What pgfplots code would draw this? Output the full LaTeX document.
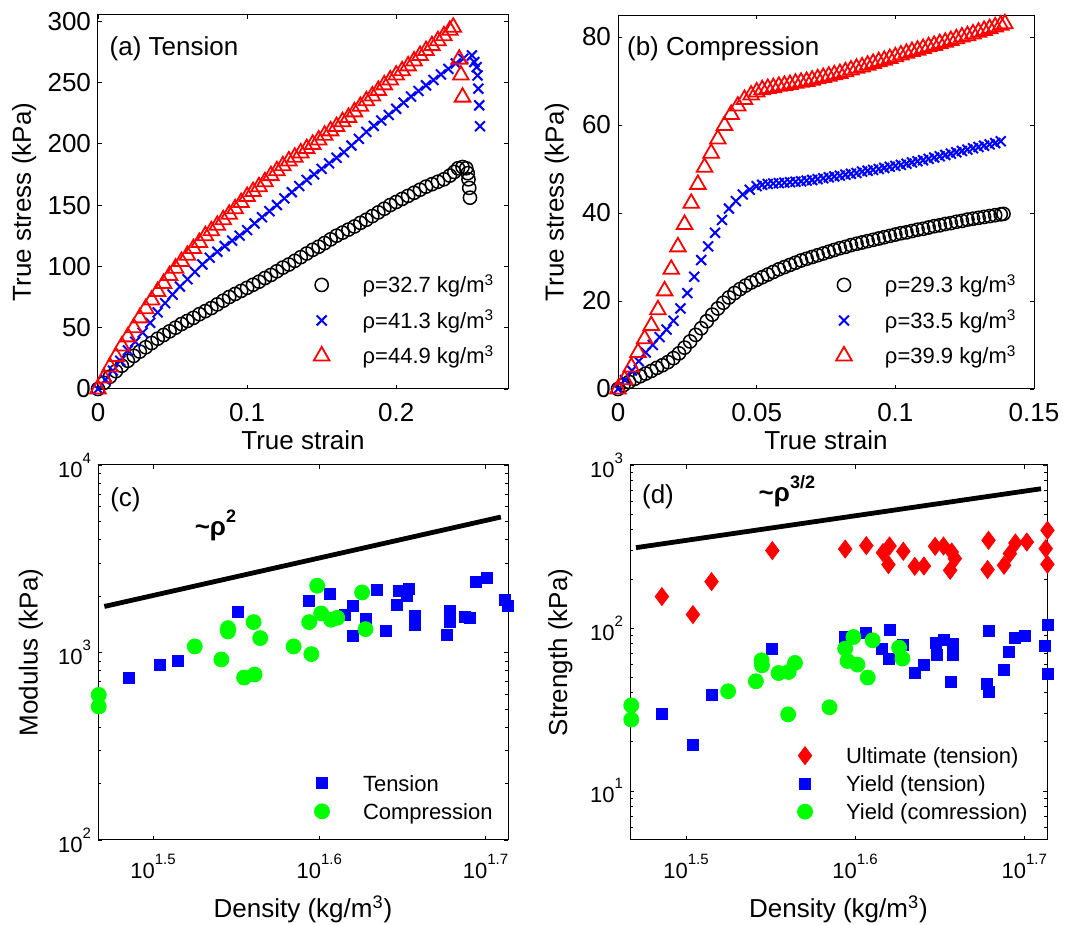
\documentclass[border=0pt]{standalone}
\usepackage{fontspec}
\setmainfont{Liberation Sans}
\usepackage{pgfplots}
\pgfplotsset{compat=1.18}
\newcommand\tfont{\fontsize{13}{13}\selectfont}
\newcommand\sfont{\fontsize{11}{11}\selectfont}
\newcommand\lsup[1]{\raisebox{7pt}{\fontsize{7.5}{7.5}\selectfont #1}}
\definecolor{mred}{rgb}{1,0,0}
\definecolor{mblue}{rgb}{0,0,1}
\definecolor{mgreen}{rgb}{0,1,0}
\pgfplotsset{
  base/.style={scale only axis, clip=false, tick align=inside,
    major tick length=2.2pt, minor tick length=1.3pt,
    axis line style={line width=0.5pt},
    every tick/.append style={line width=0.4pt, black},
    /pgf/number format/assume math mode=true,
    xticklabel shift=3.6pt,
    label style={font=\tfont},
    legend cell align=left,
    legend style={draw=none, fill=none, inner sep=0pt, outer sep=0pt, row sep=0pt, column sep=0pt, font=\sfont},
  },
  legAB/.style={legend image code/.code={\path[draw=none,fill=none] (-6pt,-5pt) rectangle (20.5pt,5pt); \draw[##1] plot coordinates {(0pt,0.9pt)};}},
  legCD/.style={legend image code/.code={\path[draw=none,fill=none] (-6pt,-4pt) rectangle (20.5pt,4pt); \draw[##1] plot coordinates {(0pt,1.4pt)};}},
}
\begin{document}
\begin{tikzpicture}
\useasboundingbox (0,0) rectangle (536pt,462.5pt);
% ---------------- (a) Tension
\begin{axis}[base, at={(49pt,268pt)}, anchor=south west, width=205pt, height=187pt,
  xmin=0, xmax=0.275, ymin=0, ymax=305,
  xtick={0,0.1,0.2}, xticklabels={0,0.1,0.2},
  ytick={0,50,100,150,200,250,300},
  tick label style={font=\tfont},
  xlabel={True strain}, ylabel={True stress (kPa)},
  xlabel style={at={(axis description cs:0.5,-0.138)}, anchor=center},
  ylabel style={at={(axis description cs:-0.18,0.5)}, anchor=center},
  legend style={at={(0.5163,0.3209)}, anchor=north west, nodes={inner sep=0pt, text height=12pt, text depth=5.75pt}},
]
\addplot[only marks, mark=o, mark size=3.3pt, line width=0.75pt, black, legAB] coordinates {
(0,0)(0.004,5)(0.008,10)(0.012,14.5)(0.016,19)(0.02,23)(0.024,27)(0.028,30.5)(0.032,34)(0.036,37.5)(0.04,41)(0.044,44)(0.048,47)(0.052,50)(0.056,53)(0.06,55.5)(0.064,58)(0.068,61)(0.072,63.5)(0.076,66)(0.08,69)(0.084,72)(0.088,75)(0.092,77.5)(0.096,80)(0.1,82.5)(0.104,85)(0.108,87.5)(0.112,90.5)(0.116,93)(0.12,96)(0.124,99)(0.128,101.5)(0.132,104.5)(0.136,107.5)(0.14,110.5)(0.144,113.5)(0.148,116)(0.152,119)(0.156,122)(0.16,125)(0.164,127.5)(0.168,130)(0.172,132.5)(0.176,135.5)(0.18,138)(0.184,141)(0.188,144)(0.192,147)(0.196,150)(0.2,152.5)(0.204,155)(0.208,157.5)(0.212,160)(0.216,162.5)(0.22,165)(0.224,167)(0.228,169)(0.232,171)(0.236,174)(0.239,177)(0.2415,180)(0.2445,181)(0.247,180)(0.248,176)(0.2485,171)(0.249,164)(0.2495,156)};
\addlegendentry{ρ=32.7 kg/m\textsuperscript{3}}
\addplot[only marks, mark=x, mark size=3.5pt, line width=1pt, mblue, legAB] coordinates {
(0,0)(0.005,7.5)(0.01,15)(0.015,23)(0.02,31.5)(0.025,38.5)(0.03,46)(0.035,54)(0.04,62.5)(0.045,70)(0.05,77)(0.055,83.5)(0.06,89.5)(0.065,95.5)(0.07,101.5)(0.075,107)(0.08,112)(0.085,116.5)(0.09,121)(0.095,125)(0.1,129.6)(0.105,135)(0.11,140)(0.115,145)(0.12,150)(0.125,155.5)(0.13,160.5)(0.135,165.5)(0.14,170.5)(0.145,175)(0.15,179.5)(0.155,184)(0.16,188.5)(0.165,193)(0.17,198.5)(0.175,204)(0.18,209.7)(0.185,214.5)(0.19,219)(0.195,223.5)(0.2,228.5)(0.205,233.5)(0.21,238.5)(0.215,243)(0.22,247.6)(0.225,252)(0.23,256.5)(0.235,261)(0.24,265.5)(0.245,269.3)(0.2508,272)(0.2524,266.6)(0.254,262.5)(0.2546,255.7)(0.2551,244.9)(0.2557,231.3)(0.2562,214.3)};
\addlegendentry{ρ=41.3 kg/m\textsuperscript{3}}
\addplot[only marks, mark=triangle, mark size=4.5pt, line width=0.9pt, mred, legAB] coordinates {
(0,0)(0.004,9)(0.008,18)(0.012,26.5)(0.016,35)(0.02,42.5)(0.024,50)(0.028,58)(0.032,65.5)(0.036,72.5)(0.04,79.5)(0.044,86)(0.048,92.5)(0.052,98.5)(0.056,104)(0.06,109)(0.064,114.5)(0.068,119.5)(0.072,125)(0.076,129)(0.08,133.5)(0.084,138)(0.088,142.5)(0.092,147)(0.096,152)(0.1,157)(0.104,161)(0.108,165)(0.112,169)(0.116,174)(0.12,178)(0.124,182)(0.128,186)(0.132,189)(0.136,192.5)(0.14,196)(0.144,199.5)(0.148,203)(0.152,207)(0.156,210.5)(0.16,214)(0.164,218)(0.168,221.5)(0.172,226)(0.176,230.5)(0.18,235)(0.184,239)(0.188,243.5)(0.192,248)(0.196,252)(0.2,256)(0.204,259.5)(0.208,263.5)(0.212,267.5)(0.216,272)(0.22,276)(0.224,280)(0.228,284)(0.232,288)(0.236,292.5)(0.2383,295)(0.2423,269)(0.2434,256)(0.2445,238)};
\addlegendentry{ρ=44.9 kg/m\textsuperscript{3}}
\node[anchor=base west, inner sep=0pt, font=\tfont] at (rel axis cs:0.0276,0.893) {(a) Tension};
\end{axis}
% ---------------- (b) Compression
\begin{axis}[base, at={(309pt,268pt)}, anchor=south west, width=208pt, height=187pt,
  xmin=0, xmax=0.15, ymin=0, ymax=85,
  xtick={0,0.05,0.1,0.15}, xticklabels={0,0.05,0.1,0.15},
  ytick={0,20,40,60,80},
  tick label style={font=\tfont},
  xlabel={True strain}, ylabel={True stress (kPa)},
  xlabel style={at={(axis description cs:0.5,-0.138)}, anchor=center},
  ylabel style={at={(axis description cs:-0.147,0.5)}, anchor=center},
  legend style={at={(0.5144,0.3209)}, anchor=north west, nodes={inner sep=0pt, text height=12pt, text depth=5.75pt}},
]
\addplot[only marks, mark=o, mark size=3.3pt, line width=0.75pt, black, legAB] coordinates {
(0,0)(0.002,0.9)(0.004,1.6)(0.006,2.3)(0.008,2.9)(0.01,3.5)(0.012,4.1)(0.014,4.8)(0.016,5.4)(0.018,6.1)(0.02,7)(0.022,8.1)(0.024,9.4)(0.026,10.8)(0.028,12.3)(0.03,13.8)(0.032,15.4)(0.034,16.9)(0.036,18.3)(0.038,19.6)(0.04,20.8)(0.042,21.8)(0.044,22.7)(0.046,23.5)(0.048,24.2)(0.05,24.8)(0.052,25.4)(0.054,26)(0.056,26.6)(0.058,27.2)(0.06,27.7)(0.062,28.2)(0.064,28.7)(0.066,29.2)(0.068,29.6)(0.07,30)(0.072,30.4)(0.074,30.8)(0.076,31.2)(0.078,31.6)(0.08,32)(0.082,32.3)(0.084,32.7)(0.086,33)(0.088,33.3)(0.09,33.6)(0.092,33.9)(0.094,34.2)(0.096,34.5)(0.098,34.8)(0.1,35.1)(0.102,35.4)(0.104,35.6)(0.106,35.9)(0.108,36.2)(0.11,36.4)(0.112,36.7)(0.114,37)(0.116,37.2)(0.118,37.5)(0.12,37.7)(0.122,38)(0.124,38.2)(0.126,38.5)(0.128,38.7)(0.13,38.9)(0.132,39.1)(0.134,39.3)(0.136,39.5)(0.138,39.7)(0.139,39.8)};
\addlegendentry{ρ=29.3 kg/m\textsuperscript{3}}
\addplot[only marks, mark=x, mark size=3.5pt, line width=1pt, mblue, legAB] coordinates {
(0,0)(0.0025,2)(0.005,4.2)(0.0075,6.3)(0.01,8.3)(0.0125,10)(0.015,11.8)(0.0175,13.5)(0.02,15.5)(0.0225,18.3)(0.025,21.8)(0.0275,25.5)(0.03,29.3)(0.0325,32.4)(0.035,35.5)(0.0375,38.4)(0.04,41)(0.0425,42.7)(0.045,44.2)(0.0475,45.3)(0.05,46.1)(0.052,46.4)(0.054,46.6)(0.056,46.7)(0.058,46.8)(0.06,46.9)(0.062,47)(0.064,47.1)(0.066,47.2)(0.068,47.35)(0.07,47.5)(0.072,47.7)(0.074,47.9)(0.076,48.1)(0.078,48.3)(0.08,48.5)(0.082,48.7)(0.084,48.9)(0.086,49.1)(0.088,49.4)(0.09,49.6)(0.092,49.8)(0.094,50)(0.096,50.25)(0.098,50.5)(0.1,50.7)(0.102,50.95)(0.104,51.2)(0.106,51.5)(0.108,51.75)(0.11,52)(0.112,52.3)(0.114,52.6)(0.116,52.9)(0.118,53.2)(0.12,53.5)(0.122,53.8)(0.124,54.1)(0.126,54.4)(0.128,54.7)(0.13,55)(0.132,55.3)(0.134,55.6)(0.136,55.9)(0.138,56.3)};
\addlegendentry{ρ=33.5 kg/m\textsuperscript{3}}
\addplot[only marks, mark=triangle, mark size=4.5pt, line width=0.9pt, mred, legAB] coordinates {
(0,0)(0.0024,2.1)(0.0048,5)(0.0072,8.3)(0.0096,11.4)(0.012,14.4)(0.0144,18)(0.0168,22.3)(0.0192,27.2)(0.0216,32.3)(0.024,37.4)(0.0264,42.2)(0.0288,46.5)(0.0312,50.4)(0.0336,53.6)(0.036,56.8)(0.0384,59.9)(0.0408,62.4)(0.0432,64.3)(0.0456,65.8)(0.048,66.8)(0.05,67.5)(0.052,68)(0.054,68.3)(0.056,68.5)(0.058,68.8)(0.06,69)(0.062,69.2)(0.064,69.5)(0.066,69.7)(0.068,69.9)(0.07,70.2)(0.072,70.5)(0.074,70.8)(0.076,71.1)(0.078,71.4)(0.08,71.7)(0.082,72.1)(0.084,72.5)(0.086,72.9)(0.088,73.2)(0.09,73.6)(0.092,74)(0.094,74.4)(0.096,74.7)(0.098,75.1)(0.1,75.5)(0.102,75.9)(0.104,76.3)(0.106,76.7)(0.108,77)(0.11,77.4)(0.112,77.8)(0.114,78.1)(0.116,78.5)(0.118,78.8)(0.12,79.2)(0.122,79.6)(0.124,80)(0.126,80.3)(0.128,80.7)(0.13,81.1)(0.132,81.5)(0.134,81.9)(0.136,82.3)(0.138,82.7)(0.1395,83)};
\addlegendentry{ρ=39.9 kg/m\textsuperscript{3}}
\node[anchor=base west, inner sep=0pt, font=\tfont] at (rel axis cs:0.0209,0.893) {(b) Compression};
\end{axis}
% ---------------- (c) Modulus
\begin{axis}[base, at={(49pt,42.5pt)}, anchor=south west, width=205pt, height=187.5pt,
  xmode=log, ymode=log,
  xmin=29.3, xmax=51.7, ymin=100, ymax=10000,
  xtick={31.6228,39.8107,50.1187}, xticklabels={10\lsup{1.5},10\lsup{1.6},10\lsup{1.7}},
  minor xtick={},
  ytick={100,1000,10000}, yticklabels={10\lsup{2},10\lsup{3},10\lsup{4}},
  minor ytick={200,300,400,500,600,700,800,900,2000,3000,4000,5000,6000,7000,8000,9000},
  tick label style={font=\sfont},
  xlabel={Density (kg/m\textsuperscript{3})}, ylabel={Modulus (kPa)},
  xlabel style={at={(axis description cs:0.5,-0.184)}, anchor=center},
  ylabel style={at={(axis description cs:-0.164,0.5)}, anchor=center},
  legend style={at={(0.517,0.181)}, anchor=north west, nodes={inner sep=0pt, text height=9.5pt, text depth=4.5pt}},
]
\addplot[black, line width=2.4pt, forget plot] coordinates {(29.56,1760)(51.19,5278)};
\addplot[only marks, mark=square*, mark size=2.75pt, mblue, legCD] coordinates {
(30.60,730)(31.93,859)(32.75,903)(35.57,1655)(39.26,1895)(40.40,2048)(41.73,1782)(41.27,1582)(42.44,1519)(41.69,1232)(43.14,2151)(43.68,1305)(44.47,2125)(45.07,2187)(44.92,2015)(44.33,1804)(45.42,1563)(45.46,1399)(47.72,1675)(47.72,1458)(47.53,1248)(48.71,1557)(49.05,1531)(49.48,2393)(50.19,2493)(51.47,1910)(51.66,1782)};
\addlegendentry{Tension}
\addplot[only marks, mark=*, mark size=3.75pt, mgreen, legCD] coordinates {
(29.33,594)(29.33,515)(33.50,1077)(34.76,918)(35.08,1349)(35.08,1295)(36.35,1452)(36.68,1193)(35.87,735)(36.40,763)(38.42,1077)(39.38,980)(39.26,1452)(39.70,2270)(39.92,1615)(40.46,1494)(40.81,1531)(42.24,2091)(42.44,1332)};
\addlegendentry{Compression}
\node[anchor=base west, inner sep=0pt, font=\tfont] at (rel axis cs:0.029,0.8888) {(c)};
\node[anchor=base west, inner sep=0pt, font=\tfont\bfseries] at (rel axis cs:0.235,0.8107) {\textasciitilde ρ\raisebox{6.5pt}{\fontsize{9}{9}\selectfont\bfseries 2}};
\end{axis}
% ---------------- (d) Strength
\begin{axis}[base, at={(315pt,42.5pt)}, anchor=south west, width=208.5pt, height=187.5pt,
  xmode=log, ymode=log,
  xmin=29.3, xmax=51.7, ymin=5, ymax=1000,
  xtick={31.6228,39.8107,50.1187}, xticklabels={10\lsup{1.5},10\lsup{1.6},10\lsup{1.7}},
  minor xtick={},
  ytick={10,100,1000}, yticklabels={10\lsup{1},10\lsup{2},10\lsup{3}},
  minor ytick={6,7,8,9,20,30,40,50,60,70,80,90,200,300,400,500,600,700,800,900},
  tick label style={font=\sfont},
  xlabel={Density (kg/m\textsuperscript{3})}, ylabel={Strength (kPa)},
  xlabel style={at={(axis description cs:0.5,-0.184)}, anchor=center},
  ylabel style={at={(axis description cs:-0.1667,0.5)}, anchor=center},
  legend style={at={(0.3909,0.2547)}, anchor=north west, nodes={inner sep=0pt, text height=9.5pt, text depth=4.5pt}},
]
\addplot[black, line width=2.4pt, forget plot] coordinates {(29.54,311)(51.28,715)};
\addplot[only marks, mark=diamond*, mark size=4.5pt, mred, legCD] coordinates {
(30.60,155.8)(31.92,120.8)(32.74,192.5)(35.57,298.4)(39.28,305.1)(40.42,320.1)(41.35,290)(41.72,318.3)(41.66,244.8)(42.51,295.4)(43.18,238.9)(43.72,240)(44.39,317)(44.90,318.3)(45.41,292.4)(45.31,225.8)(45.60,266.5)(47.74,345)(47.68,228.1)(48.76,242.4)(49.15,285.9)(49.52,332.1)(50.30,336.9)(51.73,397.3)(51.61,306.8)(51.73,245.8)};
\addlegendentry{Ultimate (tension)}
\addplot[only marks, mark=square*, mark size=2.75pt, mblue, legCD] coordinates {
(30.60,29.54)(31.92,19.06)(32.74,39.02)(35.57,74.7)(39.25,88)(40.40,93.7)(41.72,97.7)(41.30,74.7)(41.66,64.9)(42.46,79.1)(43.18,52.9)(43.72,59)(44.41,80.9)(44.95,84.8)(44.51,68.6)(45.46,80.2)(45.51,68.6)(45.34,46.6)(47.75,95.8)(47.62,45.1)(47.75,40.5)(48.72,55)(49.09,71.2)(49.52,87.3)(50.19,88.9)(51.73,104.9)(51.54,77.5)(51.73,52.5)};
\addlegendentry{Yield (tension)}
\addplot[only marks, mark=*, mark size=3.75pt, mgreen, legCD] coordinates {
(29.35,33.5)(29.35,27.4)(33.49,40.9)(34.78,47.1)(35.05,63.3)(35.07,59)(35.87,52.9)(36.37,53.7)(36.68,61)(36.34,29.5)(38.45,32.6)(39.28,74.7)(39.72,88)(39.41,62.7)(39.94,59.6)(40.50,49.6)(40.77,84)(42.27,75.7)(42.46,64.9)};
\addlegendentry{Yield (comression)}
\node[anchor=base west, inner sep=0pt, font=\tfont] at (rel axis cs:0.028,0.898) {(d)};
\node[anchor=base west, inner sep=0pt, font=\tfont\bfseries] at (rel axis cs:0.3077,0.902) {\textasciitilde ρ\raisebox{6.5pt}{\fontsize{9}{9}\selectfont\bfseries 3/2}};
\end{axis}
\end{tikzpicture}
\end{document}
